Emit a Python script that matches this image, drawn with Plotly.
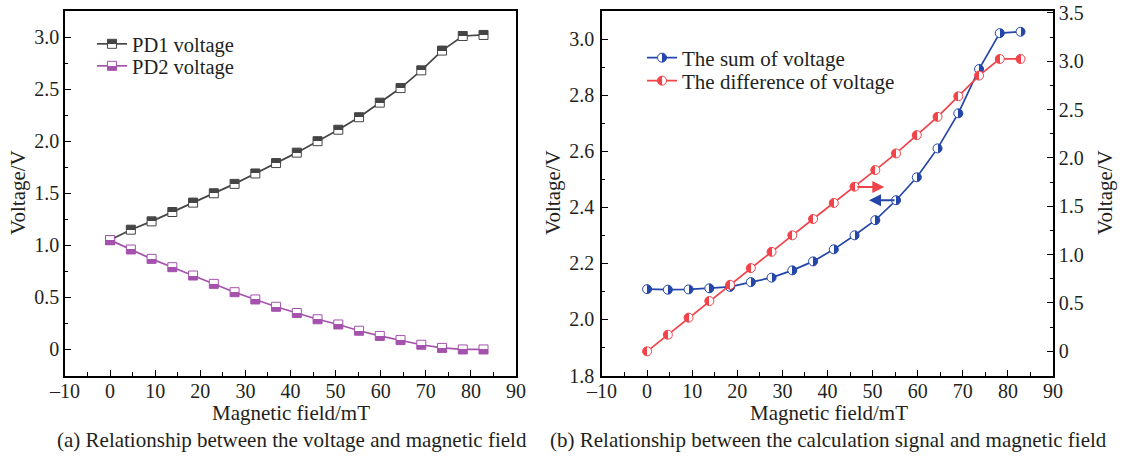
import plotly.graph_objects as go

# ---------------- data ----------------
field = [0, 4.6, 9.2, 13.8, 18.4, 23.0, 27.6, 32.2, 36.8, 41.4, 46.0, 50.6,
         55.2, 59.8, 64.4, 69.0, 73.6, 78.2, 82.8]
pd1 = [1.05, 1.15, 1.23, 1.32, 1.41, 1.50, 1.59, 1.69, 1.79, 1.89, 2.00, 2.11,
       2.23, 2.37, 2.51, 2.68, 2.87, 3.01, 3.02]
pd2 = [1.05, 0.96, 0.87, 0.79, 0.71, 0.63, 0.55, 0.48, 0.41, 0.35, 0.29, 0.24,
       0.18, 0.13, 0.09, 0.045, 0.015, 0.0, 0.0]
v_sum = [2.108, 2.106, 2.107, 2.111, 2.116, 2.133, 2.149, 2.175, 2.207, 2.250,
         2.300, 2.354, 2.425, 2.507, 2.610, 2.735, 2.893, 3.021, 3.026]
v_diff = [0.0, 0.172, 0.348, 0.520, 0.688, 0.861, 1.029, 1.200, 1.369, 1.535,
          1.703, 1.875, 2.047, 2.236, 2.425, 2.638, 2.852, 3.024, 3.024]

x_ticks = [-10, 0, 10, 20, 30, 40, 50, 60, 70, 80, 90]
x_ticktext = ["\u201310", "0", "10", "20", "30", "40", "50", "60", "70", "80", "90"]
x_minor = [-5, 5, 15, 25, 35, 45, 55, 65, 75, 85]
ya_ticks = [0, 0.5, 1.0, 1.5, 2.0, 2.5, 3.0]
ya_ticktext = ["0", "0.5", "1.0", "1.5", "2.0", "2.5", "3.0"]
ya_minor = [0.25, 0.75, 1.25, 1.75, 2.25, 2.75]
yb_ticks = [1.8, 2.0, 2.2, 2.4, 2.6, 2.8, 3.0]
yb_ticktext = ["1.8", "2.0", "2.2", "2.4", "2.6", "2.8", "3.0"]
yb_minor = [1.9, 2.1, 2.3, 2.5, 2.7, 2.9]
yr_ticks = [0, 0.5, 1.0, 1.5, 2.0, 2.5, 3.0, 3.5]
yr_ticktext = ["0", "0.5", "1.0", "1.5", "2.0", "2.5", "3.0", "3.5"]
yr_minor = [0.25, 0.75, 1.25, 1.75, 2.25, 2.75, 3.25]

# arrows: (tail x, head x, y)
arrow_diff = [46.3, 52.6, 1.70]
arrow_sum = [55.2, 49.2, 2.425]

x_title = "Magnetic field/mT"
y_title = "Voltage/V"
captions = ["(a) Relationship between the voltage and magnetic field",
            "(b) Relationship between the calculation signal and magnetic field"]

# ---------------- style ----------------
FONT = "Liberation Serif"
TXT = "#231f20"
C_PD1 = "#454545"
C_PD2 = "#a452ad"
C_SUM = "#2346a8"
C_DIFF = "#f0434a"
W, H = 1123, 461
FS = 21
FS_TICK = 20


def px_x(p):
    return p / W


def px_y(p):
    return 1 - p / H


dom_a = [px_x(65), px_x(516)]
dom_b = [px_x(602), px_x(1053)]
dom_y = [px_y(375.5), px_y(11)]

fig = go.Figure()

fig.add_trace(go.Scatter(
    x=field, y=pd1, name="PD1 voltage", mode="lines+markers",
    line=dict(color=C_PD1, width=1.7),
    marker=dict(symbol="square", size=9, color=C_PD1,
                gradient=dict(type="vertical", color="white"),
                line=dict(color=C_PD1, width=1)),
    xaxis="x", yaxis="y", legend="legend"))
fig.add_trace(go.Scatter(
    x=field, y=pd2, name="PD2 voltage", mode="lines+markers",
    line=dict(color=C_PD2, width=1.7),
    marker=dict(symbol="square", size=9, color="white",
                gradient=dict(type="vertical", color=C_PD2),
                line=dict(color=C_PD2, width=1)),
    xaxis="x", yaxis="y", legend="legend2"))
fig.add_trace(go.Scatter(
    x=field, y=v_sum, name="The sum of voltage", mode="lines+markers",
    line=dict(color=C_SUM, width=1.7),
    marker=dict(symbol="circle", size=9, color="white",
                gradient=dict(type="horizontal", color=C_SUM),
                line=dict(color=C_SUM, width=1)),
    xaxis="x2", yaxis="y2", legend="legend3"))
fig.add_trace(go.Scatter(
    x=field, y=v_diff, name="The difference of voltage", mode="lines+markers",
    line=dict(color=C_DIFF, width=1.7),
    marker=dict(symbol="circle", size=9, color=C_DIFF,
                gradient=dict(type="horizontal", color="white"),
                line=dict(color=C_DIFF, width=1)),
    xaxis="x2", yaxis="y3", legend="legend4"))

tickfont = dict(family=FONT, size=FS_TICK, color=TXT)


def minor(vals):
    return dict(tickmode="array", tickvals=vals, ticks="inside", ticklen=3.5,
                tickwidth=1.2, tickcolor="black", showgrid=False)


base_axis = dict(tickmode="array", ticks="inside", ticklen=6, tickwidth=1.3,
                 tickcolor="black", showline=True, linecolor="black", linewidth=1.5,
                 showgrid=False, zeroline=False, tickfont=tickfont, automargin=False)


def legend_cfg(x, y, size):
    return dict(x=px_x(x), y=px_y(y), font=dict(family=FONT, size=size, color=TXT),
                bgcolor="rgba(0,0,0,0)", xanchor="left", yanchor="middle",
                borderwidth=0)


fig.update_layout(
    width=W, height=H, margin=dict(l=0, r=0, t=0, b=0, autoexpand=False),
    paper_bgcolor="white", plot_bgcolor="white",
    font=dict(family=FONT, color=TXT),
    xaxis=dict(domain=dom_a, anchor="y", range=[-10, 90], tickvals=x_ticks,
               ticktext=x_ticktext, mirror=True, minor=minor(x_minor),
               ticklabelstandoff=-3, **base_axis),
    xaxis2=dict(domain=dom_b, anchor="y2", range=[-10, 90], tickvals=x_ticks,
                ticktext=x_ticktext, mirror=True, minor=minor(x_minor),
                ticklabelstandoff=-3, **base_axis),
    yaxis=dict(domain=dom_y, anchor="x", range=[-0.25, 3.25], tickvals=ya_ticks,
               ticktext=ya_ticktext, mirror=True, minor=minor(ya_minor), **base_axis),
    yaxis2=dict(domain=dom_y, anchor="x2", range=[1.8, 3.1], tickvals=yb_ticks,
                ticktext=yb_ticktext, mirror=False, minor=minor(yb_minor),
                ticklabelstandoff=2, **base_axis),
    yaxis3=dict(domain=dom_y, anchor="x2", overlaying="y2", side="right",
                range=[-0.25, 3.52], tickvals=yr_ticks, ticktext=yr_ticktext,
                minor=minor(yr_minor), **base_axis),
    legend=legend_cfg(92, 44, 20.5),
    legend2=legend_cfg(92, 66, 20.5),
    legend3=legend_cfg(642, 58, FS),
    legend4=legend_cfg(642, 81, FS),
    showlegend=True,
)

# arrows
fig.add_annotation(x=arrow_diff[1], y=arrow_diff[2], ax=arrow_diff[0], ay=arrow_diff[2],
                   xref="x2", yref="y3", axref="x2", ayref="y3", text="",
                   showarrow=True, arrowhead=2, arrowsize=1.2, arrowwidth=2,
                   arrowcolor=C_DIFF)
fig.add_annotation(x=arrow_sum[1], y=arrow_sum[2], ax=arrow_sum[0], ay=arrow_sum[2],
                   xref="x2", yref="y2", axref="x2", ayref="y2", text="",
                   showarrow=True, arrowhead=2, arrowsize=1.2, arrowwidth=2,
                   arrowcolor=C_SUM)


# axis titles
def text_ann(x, y, txt, angle=0):
    fig.add_annotation(x=px_x(x), y=px_y(y), xref="paper", yref="paper", text=txt,
                       showarrow=False, xanchor="center", yanchor="middle",
                       textangle=angle, font=dict(family=FONT, size=FS, color=TXT))


text_ann(291, 413, x_title)
text_ann(829, 413, x_title)
text_ann(18, 193, y_title, -90)
text_ann(553, 193, y_title, -90)
text_ann(1105, 193, y_title, -90)

# captions
for cx, cap in zip([292, 828], captions):
    text_ann(cx, 440, cap)

post = """
document.body.style.margin = '0';
document.body.style.overflow = 'hidden';
var gd = document.getElementById('{plot_id}');
function sharpen(){
  gd.querySelectorAll('linearGradient stop').forEach(function(s){ s.setAttribute('offset','50%'); });
}
sharpen();
gd.on('plotly_afterplot', sharpen);
"""

fig.write_html("out.html", post_script=post, config={"displayModeBar": False})
